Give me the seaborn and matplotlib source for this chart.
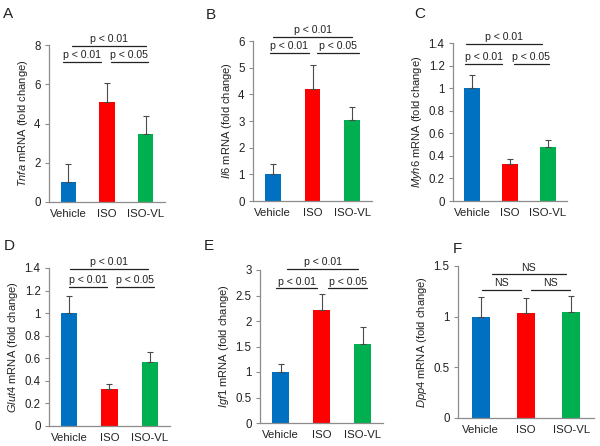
import matplotlib
matplotlib.use("Agg")
import matplotlib.pyplot as plt
import seaborn as sns
from matplotlib.ticker import FuncFormatter

sns.set_style("white")
plt.rcParams['font.family'] = ['Liberation Sans', 'DejaVu Sans']
plt.rcParams['mathtext.fontset'] = 'custom'
plt.rcParams['mathtext.it'] = 'Liberation Sans:italic'
plt.rcParams['mathtext.rm'] = 'Liberation Sans'

groups = ["Vehicle", "ISO", "ISO-VL"]
colors = ["#0070C0", "#FF0000", "#00B050"]

genes = ["Tnfa", "Il6", "Myh6", "Glut4", "Igf1", "Dpp4"]
letters = ["A", "B", "C", "D", "E", "F"]

tnfa_mean = [1.0, 5.1, 3.45]
tnfa_err = [0.95, 0.95, 0.93]
il6_mean = [1.0, 4.2, 3.05]
il6_err = [0.4, 0.9, 0.48]
myh6_mean = [1.0, 0.33, 0.48]
myh6_err = [0.12, 0.04, 0.06]
glut4_mean = [1.0, 0.33, 0.57]
glut4_err = [0.15, 0.045, 0.09]
igf1_mean = [1.0, 2.22, 1.54]
igf1_err = [0.16, 0.30, 0.35]
dpp4_mean = [1.0, 1.04, 1.05]
dpp4_err = [0.19, 0.14, 0.15]

means = [tnfa_mean, il6_mean, myh6_mean, glut4_mean, igf1_mean, dpp4_mean]
errs = [tnfa_err, il6_err, myh6_err, glut4_err, igf1_err, dpp4_err]

yticks = [
    [0, 2, 4, 6, 8],
    [0, 1, 2, 3, 4, 5, 6],
    [0, 0.2, 0.4, 0.6, 0.8, 1.0, 1.2, 1.4],
    [0, 0.2, 0.4, 0.6, 0.8, 1.0, 1.2, 1.4],
    [0, 0.5, 1.0, 1.5, 2.0, 2.5, 3.0],
    [0, 0.5, 1.0, 1.5],
]

sig_labels = [
    ["p < 0.01", "p < 0.01", "p < 0.05"],
    ["p < 0.01", "p < 0.01", "p < 0.05"],
    ["p < 0.01", "p < 0.01", "p < 0.05"],
    ["p < 0.01", "p < 0.01", "p < 0.05"],
    ["p < 0.01", "p < 0.01", "p < 0.05"],
    ["NS", "NS", "NS"],
]

# axes boxes in pixels: left, right, top, bottom
W, H = 600, 446
boxes = [
    (49, 165, 45, 202),
    (253, 372, 41, 201),
    (453, 567, 43, 201),
    (49, 170, 268, 426),
    (260, 383, 270, 423),
    (458, 594, 266, 418),
]
# bracket geometry: (top x0, x1, y), (left x0, x1, y), (right x0, x1, y) -> x in data, y in axes fraction
brackets = [
    [(0.1, 2.0, 0.994), (-0.15, 0.85, 0.892), (1.1, 2.05, 0.892)],
    [(0.0, 2.0, 1.025), (-0.06, 0.9, 0.925), (1.12, 2.18, 0.925)],
    [(-0.15, 1.85, 0.994), (-0.18, 0.8, 0.867), (1.1, 2.03, 0.867)],
    [(0.01, 1.96, 0.994), (0.0, 0.93, 0.88), (1.17, 2.1, 0.88)],
    [(0.15, 1.9, 1.007), (-0.1, 0.9, 0.882), (1.15, 2.12, 0.882)],
    [(0.24, 1.89, 0.947), (0.02, 0.89, 0.842), (1.11, 1.98, 0.842)],
]
letter_pos = [(8, 14), (211, 15), (420, 14), (9, 246), (209, 246), (457, 249)]

fig = plt.figure(figsize=(6.0, 4.46), dpi=100)

fmt = FuncFormatter(lambda v, p: "%g" % v)

for i in range(6):
    l, r, t, b = boxes[i]
    ax = fig.add_axes([l / W, 1 - b / H, (r - l) / W, (b - t) / H])
    sns.barplot(x=groups, y=means[i], hue=groups, palette=colors, legend=False,
                width=0.4, saturation=1, ax=ax, edgecolor="none")
    ax.errorbar(range(3), means[i], yerr=[[0, 0, 0], errs[i]], fmt="none",
                ecolor="#4a4a4a", elinewidth=0.8, capsize=2.5, capthick=0.8)
    ax.set_xlim(-0.5, 2.5)
    ax.set_ylim(0, yticks[i][-1])
    ax.set_yticks(yticks[i])
    ax.yaxis.set_major_formatter(fmt)
    for s in ["top", "right"]:
        ax.spines[s].set_visible(False)
    for s in ["left", "bottom"]:
        ax.spines[s].set_color("#8c8c8c")
        ax.spines[s].set_linewidth(0.9)
    ax.tick_params(axis="y", left=True, length=3, width=0.8, color="#8c8c8c",
                   labelsize=8.3, labelcolor="#222222", pad=3)
    ax.tick_params(axis="x", bottom=False, labelsize=8.2, labelcolor="#222222", pad=1.5)
    ax.set_ylabel(r"$\it{%s}$ mRNA (fold change)" % genes[i], fontsize=8, color="#222222",
                  labelpad=3)
    ax.set_xlabel("")
    trans = ax.get_xaxis_transform()
    labs = sig_labels[i]
    for j, (x0, x1, yy) in enumerate(brackets[i]):
        ax.plot([x0, x1], [yy, yy], transform=trans, color="#222222", lw=0.9,
                clip_on=False)
        ax.text((x0 + x1) / 2, yy + 0.01, labs[j], transform=trans, ha="center",
                va="bottom", fontsize=7.6, color="#222222", clip_on=False)
    lx, ly = letter_pos[i]
    fig.text(lx / W, 1 - ly / H, letters[i], fontsize=11, ha="center", va="center",
             color="#222222")

fig.savefig("out.png", dpi=100)
